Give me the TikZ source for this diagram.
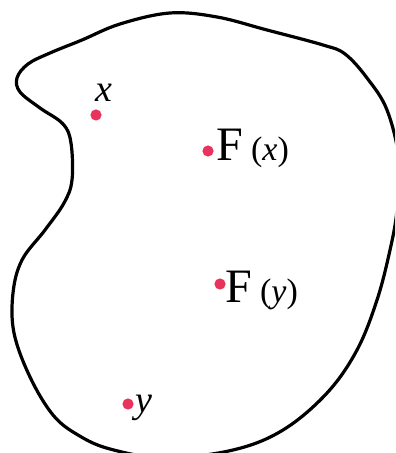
\documentclass[tikz,border=0pt]{standalone}
\usepackage{fontspec}
\setmainfont{Liberation Serif}
\usetikzlibrary{positioning}
\definecolor{pointred}{HTML}{E8345C}

\begin{document}
\begin{tikzpicture}[
      x=0.5pt, y=-0.5pt,
      pt/.style={circle, fill=pointred, inner sep=0pt, minimum size=5.6pt},
      lbl/.style={inner sep=0pt, anchor=base west, font=\fontsize{19}{19}\selectfont\itshape},
      img/.style={inner sep=0pt, anchor=base west},
      blob/.style={line width=1.6pt, line join=round}
    ]
      \useasboundingbox (0,0) rectangle (395,453);
      \clip (0,0) rectangle (395,453);
      % the set
      \draw[blob] plot[smooth cycle, tension=0.6] coordinates {
        (120,24) (170,13) (217,17) (267,30) (323,45) (345,54) (367,78)
        (387,110) (399,160) (397,210) (390,250) (377,300) (357,350)
        (327,393) (283,430) (233,450) (165,458) (110,449) (78,435)
        (53,415) (30,377) (14,333) (13,293) (22,260) (45,230) (64,203)
        (72,180) (71,143) (63,124) (40,108) (20,92) (17,78) (28,64)
        (50,53) (82,40)};
      % points
      \node[pt] (px) at (96,115) {};
      \node[pt] (pfx) at (208,151) {};
      \node[pt] (pfy) at (220,284) {};
      \node[pt] (py) at (128,404) {};
      % labels
      \node[lbl] (lx) at (95,102) {x};
      \node[lbl] (ly) at (135,412) {y};
      \node[img] (lfx) at (216,161) {\fontsize{24}{24}\selectfont F\,\fontsize{17}{17}\selectfont(\textit{x})};
      \node[img] (lfy) at (225,302) {\fontsize{24}{24}\selectfont F\,\fontsize{17}{17}\selectfont(\textit{y})};
    \end{tikzpicture}
\end{document}
